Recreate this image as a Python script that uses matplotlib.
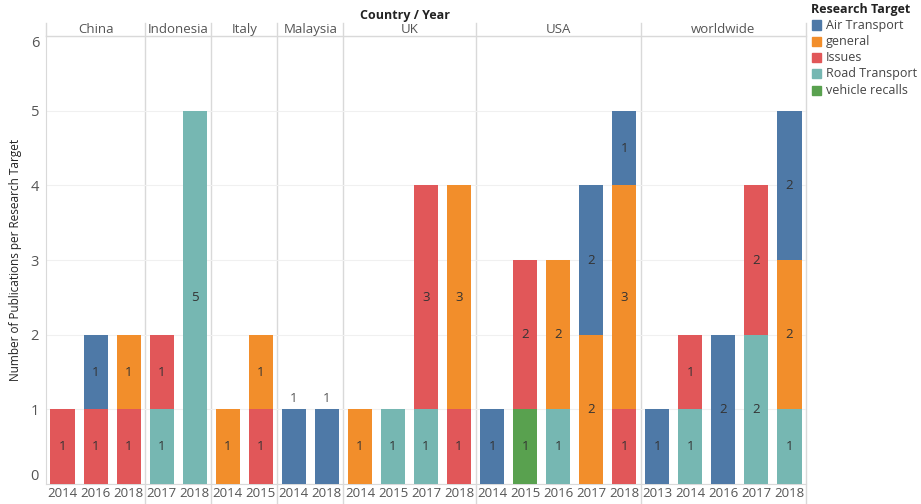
import matplotlib.pyplot as plt
from matplotlib.patches import Rectangle
import numpy as np

plt.rcParams['font.family'] = ['Open Sans', 'DejaVu Sans']

countries = ['China', 'Indonesia', 'Italy', 'Malaysia', 'UK', 'USA', 'worldwide']
years = [['2014', '2016', '2018'], ['2017', '2018'], ['2014', '2015'], ['2014', '2018'],
         ['2014', '2015', '2017', '2018'], ['2014', '2015', '2016', '2017', '2018'],
         ['2013', '2014', '2016', '2017', '2018']]

# one value per column, columns in the order of countries/years above
recalls = [0, 0, 0, 0, 0, 0, 0, 0, 0, 0, 0, 0, 0, 0, 1, 0, 0, 0, 0, 0, 0, 0, 0]
road = [0, 0, 0, 1, 5, 0, 0, 0, 0, 0, 1, 1, 0, 0, 0, 1, 0, 0, 0, 1, 0, 2, 1]
issues = [1, 1, 1, 1, 0, 0, 1, 0, 0, 0, 0, 3, 1, 0, 2, 0, 0, 1, 0, 1, 0, 2, 0]
general = [0, 0, 1, 0, 0, 1, 1, 0, 0, 1, 0, 0, 3, 0, 0, 2, 2, 3, 0, 0, 0, 0, 2]
air = [0, 1, 0, 0, 0, 0, 0, 1, 1, 0, 0, 0, 0, 1, 0, 0, 2, 1, 1, 0, 2, 0, 2]

legend_names = ['Air Transport', 'general', 'Issues', 'Road Transport', 'vehicle recalls']
colors = {'Air Transport': '#4e79a7', 'general': '#f28e2b', 'Issues': '#e15759',
          'Road Transport': '#76b7b2', 'vehicle recalls': '#59a14f'}
# bottom to top
stack = [('vehicle recalls', recalls), ('Road Transport', road), ('Issues', issues),
         ('general', general), ('Air Transport', air)]

W, H = 921, 504
fig = plt.figure(figsize=(W / 100, H / 100), dpi=100)
ax_l, ax_r, ax_b, ax_t = 46, 806, 484, 36
ax = fig.add_axes([ax_l / W, 1 - ax_b / H, (ax_r - ax_l) / W, (ax_b - ax_t) / H])

n = len(recalls)
x = np.arange(n)
bottom = np.zeros(n)
labels_flat = [y for ys in years for y in ys]
col_country = [c for c, ys in zip(countries, years) for _ in ys]

for name, vals in stack:
    vals = np.array(vals, dtype=float)
    ax.bar(x, vals, bottom=bottom, width=0.73, color=colors[name], zorder=3)
    for i in range(n):
        if vals[i] > 0:
            if col_country[i] == 'Malaysia':
                ax.text(x[i], bottom[i] + vals[i] + 0.06, str(int(vals[i])), ha='center', va='bottom',
                        fontsize=9.5, color='#555555', zorder=4)
            else:
                ax.text(x[i], bottom[i] + vals[i] / 2, str(int(vals[i])), ha='center', va='center',
                        fontsize=9.5, color='#333333', zorder=4)
    bottom += vals

ax.set_xlim(-0.5, n - 0.5)
ax.set_ylim(0, 6)
ax.set_yticks(range(7))
ax.yaxis.grid(True, color='#f0f0f0', linewidth=0.8, zorder=0)
ax.tick_params(axis='y', length=0, labelsize=10.5, labelcolor='#555555', pad=5)
ax.set_xticks(x)
ax.set_xticklabels(labels_flat)
ax.tick_params(axis='x', length=0, labelsize=9.5, labelcolor='#555555', pad=2)
for lab in ax.get_yticklabels():
    if lab.get_text() == '0':
        lab.set_va('bottom')
    elif lab.get_text() == '6':
        lab.set_va('top')
for s in ['top', 'right']:
    ax.spines[s].set_visible(False)
ax.spines['left'].set_color('#d9d9d9')
ax.spines['bottom'].set_color('#d9d9d9')
ax.set_ylabel('Number of Publications per Research Target', fontsize=8.5, color='#222222', labelpad=6)

# panel dividers and headers
pos = -0.5
tr = ax.get_xaxis_transform()
for c, ys in zip(countries, years):
    start = pos
    pos += len(ys)
    ax.text((start + pos) / 2, 1 + 7 / 448, c, transform=tr, ha='center', va='center', fontsize=9.5, color='#555555')
    ax.plot([pos, pos], [-0.045, 1.03], transform=tr, color='#d9d9d9', linewidth=1, clip_on=False, zorder=1)
ax.plot([-0.5, -0.5], [1.0, 1.03], transform=tr, color='#d9d9d9', linewidth=1, clip_on=False)
ax.plot([-0.5, n - 0.5], [1, 1], transform=tr, color='#d9d9d9', linewidth=1, clip_on=False)
fig.text(405 / W, 1 - 15 / H, 'Country / Year', ha='center', va='center', fontsize=9, fontweight='bold', color='#222222')

# legend
fig.text(811 / W, 1 - 9 / H, 'Research Target', ha='left', va='center', fontsize=9, fontweight='bold', color='#222222')
for k, name in enumerate(legend_names):
    yc = 25 + k * 16.3
    fig.patches.append(Rectangle((812 / W, 1 - (yc + 4.5) / H), 9 / W, 9 / H, transform=fig.transFigure,
                                 color=colors[name], figure=fig))
    fig.text(826 / W, 1 - yc / H, name, ha='left', va='center', fontsize=9, color='#444444')

fig.savefig('out.png', dpi=100)
